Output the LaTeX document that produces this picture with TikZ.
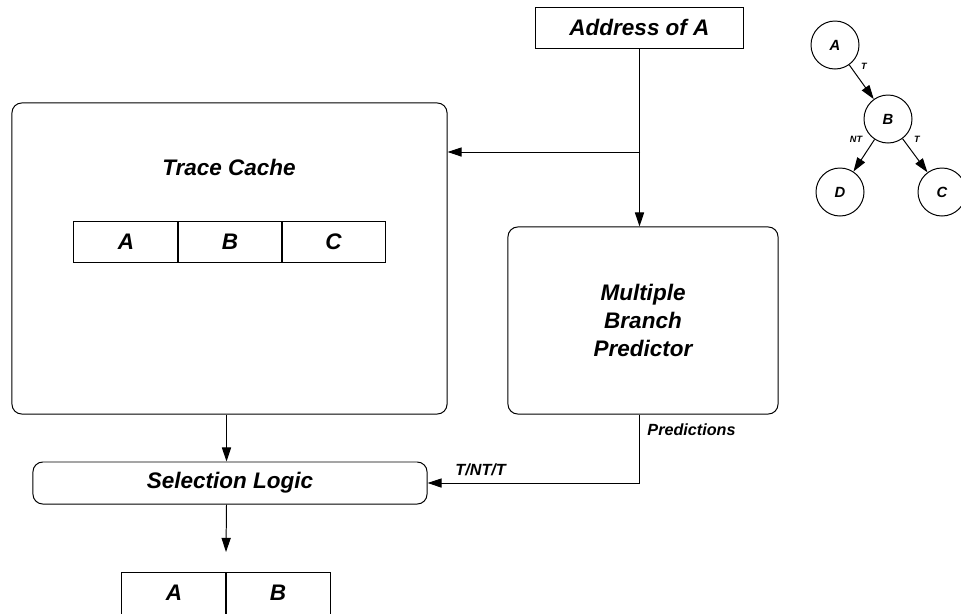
\documentclass[tikz,border=0pt]{standalone}
\usepackage{fontspec}
\setmainfont{Liberation Sans}
\usetikzlibrary{arrows.meta,positioning,calc}
\newcommand{\bigfont}{\fontsize{16}{19.6}\selectfont\bfseries\itshape}
\newcommand{\midfont}{\fontsize{10.5}{12}\selectfont\bfseries\itshape}
\newcommand{\smallfont}{\fontsize{11.5}{13}\selectfont\bfseries\itshape}
\newcommand{\tinyfont}{\fontsize{6.5}{8}\selectfont\bfseries\itshape}

\begin{document}
\begin{tikzpicture}[
    x=0.025cm, y=-0.025cm,
    line width=0.7pt,
    >={Triangle[length=10pt,width=6.5pt]},
    unit/.style={rectangle, draw, rounded corners=7pt, inner sep=0pt, font=\bigfont, align=center},
    box/.style={rectangle, draw, inner sep=0pt, font=\bigfont},
    cell/.style={rectangle, draw, minimum width=2.6cm, minimum height=1.025cm, inner sep=0pt, font=\bigfont},
    bnode/.style={circle, draw, minimum size=1.2cm, inner sep=0pt, font=\midfont},
    elbl/.style={font=\tinyfont, inner sep=0pt},
    lbl/.style={font=\smallfont, inner sep=0pt}
]
\useasboundingbox (0,0) rectangle (961,613);

% Address input
\node[box, minimum width=5.175cm, minimum height=1.025cm] (addr) at (639.5, 27.5) {Address of A};

% Trace cache with stored trace
\node[unit, minimum width=10.875cm, minimum height=7.775cm] (cache) at (229.5, 258.5) {};
\node[font=\bigfont] (cachetxt) at (229, 167) {Trace Cache};
\node[cell] (ca) at (126, 241.5) {A};
\node[cell] (cb) at (230, 241.5) {B};
\node[cell] (cc) at (333.5, 241.5) {C};

% Branch predictor
\node[unit, minimum width=6.75cm, minimum height=4.675cm] (mbp) at (643, 320.5) {Multiple\\Branch\\Predictor};

% Selection logic and output
\node[unit, minimum width=9.85cm, minimum height=1.05cm] (sel) at (230, 483) {Selection Logic};
\node[cell, minimum height=1.05cm] (oa) at (174, 593) {A};
\node[cell, minimum height=1.05cm] (ob) at (278, 593) {B};

% Connections
\coordinate (split) at (640, 152);
\coordinate (outtip) at (226, 552);
\draw[->] (addr.south) -- (addr.south |- mbp.north);
\draw[->] (split) -- (cache.east |- split);
\draw[->] (oa.east |- cache.south) -- (oa.east |- sel.north);
\draw[->] (oa.east |- sel.south) -- (outtip);
\draw[->] (addr.south |- mbp.south) |- (sel.east);
\node[lbl, anchor=west] (pred) at (647, 430) {Predictions};
\node[lbl, anchor=west] (tnt) at (455, 470) {T/NT/T};

% Branch tree
\node[bnode] (ta) at (835, 45) {A};
\node[bnode] (tb) at (888, 119) {B};
\node[bnode] (td) at (840, 192) {D};
\node[bnode] (tc) at (942, 192) {C};
\draw[->] (ta) -- (tb);
\draw[->] (tb) -- (td);
\draw[->] (tb) -- (tc);
\node[elbl] (lab) at (864, 66) {T};
\node[elbl] (lbd) at (856, 139) {NT};
\node[elbl] (lbc) at (917, 139) {T};

\end{tikzpicture}
\end{document}
